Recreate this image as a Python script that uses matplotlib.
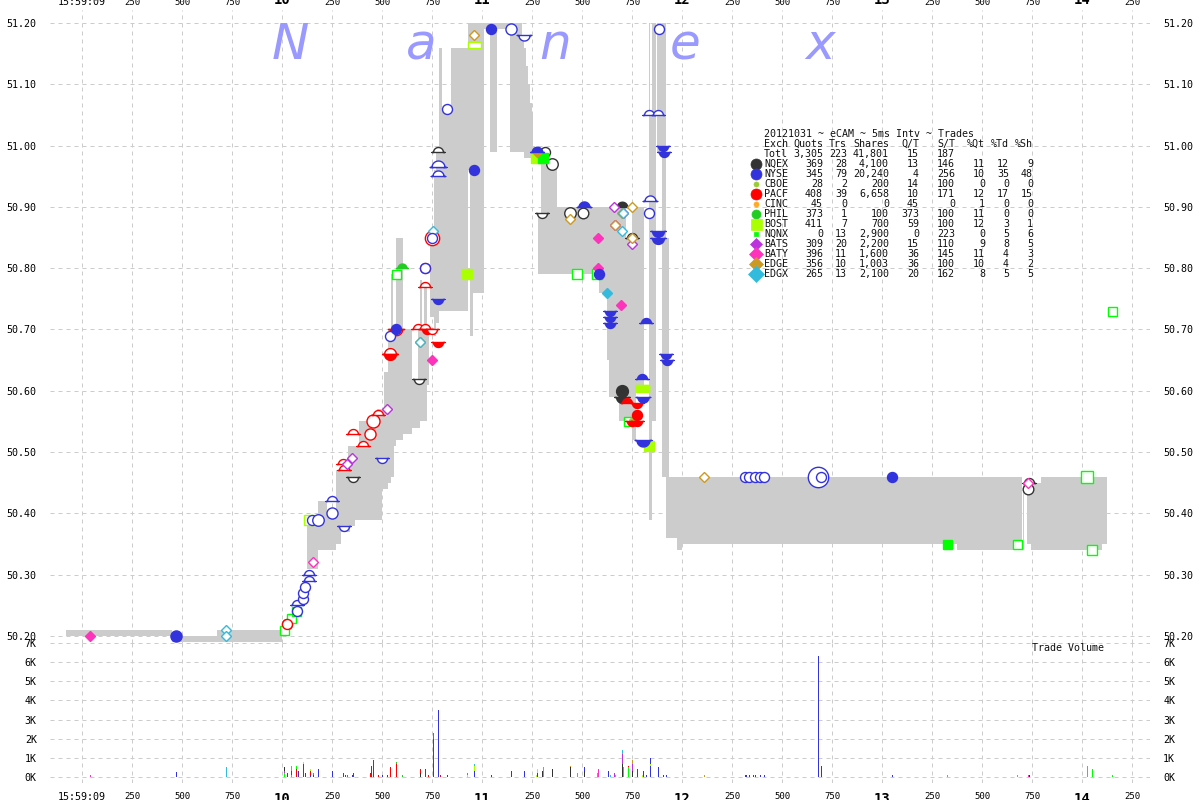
import numpy as np
import matplotlib
matplotlib.use('Agg')
import matplotlib.pyplot as plt
from matplotlib.path import Path

plt.rcParams['font.family'] = ['DejaVu Sans Mono']

# exchange summary table
exch = ['NQEX', 'NYSE', 'CBOE', 'PACF', 'CINC', 'PHIL', 'BOST', 'NQNX', 'BATS', 'BATY', 'EDGE', 'EDGX']
quots = ['369', '345', '28', '408', '45', '373', '411', '0', '309', '396', '356', '265']
trs = ['28', '79', '2', '39', '0', '1', '7', '13', '20', '11', '10', '13']
shares = ['4,100', '20,240', '200', '6,658', '0', '100', '700', '2,900', '2,200', '1,600', '1,003', '2,100']
q_t = ['13', '4', '14', '10', '45', '373', '59', '0', '15', '36', '36', '20']
s_t = ['146', '256', '100', '171', '0', '100', '100', '223', '110', '145', '100', '162']
pct_qt = ['11', '10', '0', '12', '1', '11', '12', '0', '9', '11', '10', '8']
pct_td = ['12', '35', '0', '17', '0', '0', '3', '5', '8', '4', '4', '5']
pct_sh = ['9', '48', '0', '15', '0', '0', '1', '6', '5', '3', '2', '5']
colors = {'NQEX': '#333333', 'NYSE': '#3333dd', 'CBOE': '#99cc33', 'PACF': '#ff0000', 'CINC': '#ffaa22',
          'PHIL': '#22cc22', 'BOST': '#aaff00', 'NQNX': '#00ff00', 'BATS': '#bb33dd', 'BATY': '#ff33bb',
          'EDGE': '#cc9922', 'EDGX': '#33bbdd'}

# grey quote range, ms after 15:59:09
band_start = [-80, 450, 675, 1125, 1180, 1225, 1270, 1295, 1330, 1340, 1365, 1385, 1475, 1500, 1510, 1530, 1545, 1555,
              1560, 1570, 1605, 1650, 1680, 1690, 1700, 1710, 1725, 1740, 1760, 1770, 1785, 1800, 1845, 1930, 1940,
              1955, 2010, 2040, 2075, 2140, 2200, 2210, 2220, 2230, 2240, 2250, 2255, 2280, 2295, 2375, 2585, 2625,
              2635, 2685, 2720, 2750, 2770, 2835, 2840, 2850, 2875, 2900, 2920, 2935, 2975, 3000, 4375, 4705, 4725,
              4745, 4795, 5100]
band_end = [450, 675, 1000, 1180, 1225, 1270, 1295, 1330, 1340, 1365, 1385, 1475, 1500, 1510, 1530, 1545, 1555, 1560,
            1570, 1605, 1650, 1680, 1690, 1700, 1710, 1725, 1735, 1760, 1770, 1785, 1800, 1845, 1930, 1940, 1955,
            2010, 2040, 2075, 2140, 2200, 2210, 2220, 2230, 2240, 2250, 2255, 2265, 2295, 2375, 2585, 2625, 2635,
            2685, 2720, 2750, 2770, 2810, 2840, 2850, 2870, 2900, 2920, 2935, 2975, 3000, 4375, 4700, 4710, 4745,
            4795, 5100, 5125]
band_hi = [50.21, 50.20, 50.21, 50.39, 50.42, 50.40, 50.47, 50.47, 50.51, 50.51, 50.51, 50.55, 50.57, 50.57, 50.63,
           50.70, 50.79, 50.70, 50.70, 50.85, 50.70, 50.62, 50.70, 50.78, 50.70, 50.77, 50.70, 50.86, 50.96, 51.00,
           51.16, 51.06, 51.16, 51.20, 51.20, 51.20, 51.20, 51.20, 51.20, 51.20, 51.18, 51.16, 51.13, 51.10, 51.07,
           51.05, 51.00, 50.89, 50.97, 50.90, 50.90, 50.90, 50.90, 50.90, 50.85, 50.90, 50.90, 51.20, 51.05, 51.20,
           51.20, 51.20, 50.85, 50.46, 50.46, 50.46, 50.46, 50.45, 50.45, 50.45, 50.46, 50.46]
band_lo = [50.20, 50.19, 50.19, 50.31, 50.34, 50.34, 50.35, 50.37, 50.37, 50.38, 50.39, 50.39, 50.39, 50.44, 50.44,
           50.45, 50.46, 50.46, 50.51, 50.52, 50.53, 50.54, 50.54, 50.55, 50.55, 50.55, 50.61, 50.72, 50.69, 50.71,
           50.73, 50.73, 50.73, 50.96, 50.69, 50.76, 51.19, 50.99, 51.19, 50.99, 50.99, 50.98, 50.98, 50.98, 50.98,
           50.98, 50.98, 50.79, 50.79, 50.79, 50.76, 50.65, 50.59, 50.55, 50.55, 50.52, 50.60, 50.39, 50.39, 50.55,
           50.99, 50.46, 50.36, 50.36, 50.34, 50.35, 50.34, 50.34, 50.35, 50.34, 50.34, 50.35]

# quote/trade marks per exchange: f filled, h hollow, u/U half up open/filled, d/D half down open/filled
nqex_ms = [1025, 1355, 1685, 1780, 2300, 2315, 2350, 2440, 2505, 2700, 2700, 2700, 2750, 4735, 4730]
nqex_px = [50.22, 50.46, 50.62, 50.99, 50.89, 50.99, 50.97, 50.89, 50.89, 50.90, 50.60, 50.59, 50.85, 50.45, 50.44]
nqex_kind = 'hdduddhhhhUfDuuh'[:1] + 'ddudhhhhUfDuuh'
nqex_sh = [100, 100, 100, 100, 100, 100, 400, 400, 200, 200, 500, 500, 100, 100, 200]

nyse_ms = [470, 1075, 1075, 1105, 1105, 1115, 1135, 1135, 1150, 1180, 1250, 1250, 1310, 1500, 1540, 1570, 1715, 1750,
           1780, 1780, 1780, 1780, 1825, 1960, 2045, 2145, 2210, 2275, 2510, 2585, 2640, 2640, 2640, 2820, 2800, 2805,
           2805, 2835, 2840, 2835, 2880, 2880, 2880, 2885, 2905, 2910, 2920, 2925, 3315, 3335, 3365, 3390, 3410, 3680,
           3695, 4050]
nyse_px = [50.20, 50.25, 50.24, 50.26, 50.27, 50.28, 50.29, 50.30, 50.39, 50.39, 50.40, 50.42, 50.38, 50.49, 50.69,
           50.70, 50.80, 50.85, 50.965, 50.965, 50.95, 50.75, 51.06, 50.96, 51.19, 51.19, 51.18, 50.99, 50.90, 50.79,
           50.73, 50.72, 50.71, 50.71, 50.62, 50.59, 50.52, 50.89, 50.91, 51.05, 51.05, 50.86, 50.85, 51.19, 51.00,
           50.99, 50.66, 50.65, 50.46, 50.46, 50.46, 50.46, 50.46, 50.46, 50.46, 50.46]
nyse_kind = 'fuhhhhuuhhhuddhfhhUuuDhffhdUUfDDDUUDDhuuuDDhDDDDhhhhhhhf'
nyse_sh = [300, 100, 100, 100, 100, 100, 100, 100, 100, 400, 300, 100, 100, 100, 100, 100, 100, 100,
           100, 900, 300, 100, 100, 100, 100, 300, 300, 200, 300, 100, 100, 100, 100, 100, 100, 300,
           900, 100, 300, 100, 100, 500, 500, 100, 100, 100, 100, 100, 100, 100, 100, 100, 100, 6300,
           100, 100]

pacf_ms = [1025, 1305, 1310, 1405, 1355, 1440, 1455, 1480, 1540, 1540, 1570, 1680, 1715, 1725, 1750, 1780, 1715, 1715,
           1750, 2725, 2775, 2775, 2775, 2750]
pacf_px = [50.22, 50.48, 50.47, 50.51, 50.53, 50.53, 50.55, 50.56, 50.66, 50.66, 50.70, 50.70, 50.70, 50.70, 50.70,
           50.68, 50.77, 50.80, 50.85, 50.58, 50.58, 50.56, 50.55, 50.55]
pacf_kind = 'huuuuhhuuDduuDdDuhhUDfDD'
pacf_sh = [100, 100, 100, 100, 100, 300, 900, 100, 500, 500, 700, 100, 100, 100, 100, 100, 100, 100,
           1500, 100, 100, 100, 100, 100]

phil_ms = [1600]
phil_px = [50.80]
phil_kind = 'U'
phil_sh = [100]

cboe_ms = [2750]
cboe_px = [50.55]
cboe_kind = 'f'
cboe_sh = [100]

bost_ms = [1135, 1925, 1960, 2270, 2800, 2800, 2835]
bost_px = [50.39, 50.79, 51.16, 50.98, 50.61, 50.60, 50.51]
bost_kind = 'hfufDUf'
bost_sh = [100, 100, 100, 100, 100, 100, 100]

nqnx_ms = [1010, 1045, 1070, 1570, 2305, 2475, 2575, 2730, 4325, 4675, 5025, 5050, 5150]
nqnx_px = [50.21, 50.23, 50.24, 50.79, 50.98, 50.79, 50.79, 50.55, 50.35, 50.35, 50.46, 50.34, 50.73]
nqnx_kind = 'hhhhfhhhfhhhh'
nqnx_sh = [100, 100, 100, 100, 400, 200, 200, 100, 100, 100, 600, 400, 100]

bats_ms = [1325, 1350, 1525, 2660, 2665, 2705, 2750]
bats_px = [50.48, 50.49, 50.57, 50.90, 50.87, 50.89, 50.84]
bats_kind = 'hhhhhhh'
bats_sh = [100, 100, 100, 100, 100, 100, 100]

baty_ms = [40, 1155, 1750, 2580, 2580, 2695, 4730]
baty_px = [50.20, 50.32, 50.65, 50.85, 50.80, 50.74, 50.45]
baty_kind = 'fhfffhh'[:5] + 'fh'
baty_sh = [100, 100, 100, 100, 100, 100, 100]

edge_ms = [1690, 1960, 2275, 2440, 2665, 2700, 2750, 2750, 3110]
edge_px = [50.68, 51.18, 50.99, 50.88, 50.87, 50.89, 50.90, 50.85, 50.46]
edge_kind = 'hhfhhhhhh'
edge_sh = [100, 100, 100, 100, 100, 100, 100, 100, 100]

edgx_ms = [720, 720, 1690, 1755, 2625, 2705, 2700]
edgx_px = [50.21, 50.20, 50.68, 50.86, 50.76, 50.89, 50.86]
edgx_kind = 'hhhhfhh'
edgx_sh = [100, 100, 100, 100, 100, 300, 100]

# traded volume, stacked where the ms repeats
vol_ms = [40, 470, 720, 1010, 1010, 1010, 1025, 1045, 1045, 1045, 1070, 1070, 1080, 1105, 1105, 1115, 1140, 1140, 1140,
          1155, 1155, 1180, 1250, 1305, 1315, 1325, 1350, 1355, 1440, 1445, 1455, 1480, 1500, 1525, 1540, 1570, 1570,
          1600, 1690, 1690, 1715, 1730, 1755, 1755, 1755, 1780, 1790, 1825, 1925, 1925, 1960, 1960, 1960, 2045, 2145,
          2210, 2270, 2275, 2275, 2305, 2305, 2300, 2350, 2440, 2440, 2475, 2510, 2510, 2575, 2580,
          2630, 2640, 2660, 2665, 2700, 2700, 2700, 2705, 2730, 2730, 2750, 2750, 2750, 2775, 2800, 2805, 2820, 2840,
          2840, 2840, 2880, 2905, 2920, 3110, 3315, 3320, 3335, 3355, 3365, 3390, 3410, 3680, 3695, 4050, 4325, 4675,
          4730, 4735, 5025, 5050, 5150]
vol_sh = [100, 280, 500, 200, 100, 200, 200, 100, 200, 300, 400, 200, 300, 700, 100, 200, 100, 200, 100,
          100, 100, 400, 300, 200, 100, 100, 100, 200, 200, 600, 900, 100, 100, 100, 500, 700, 100,
          100, 200, 200, 400, 100, 700, 1300, 300, 3500, 100, 100, 100, 100, 300, 300, 100, 100, 300,
          300, 100, 200, 200, 100, 400, 300, 400, 500, 100, 200, 300, 200, 200, 400,
          300, 100, 200, 100, 700, 500, 200, 500, 500, 100, 300, 400, 200, 400, 100, 300, 100, 600,
          100, 300, 500, 100, 100, 100, 100, 100, 100, 100, 100, 100, 100, 6300, 600, 100, 100, 100,
          100, 100, 600, 400, 100]
vol_ex = ['BATY', 'NYSE', 'EDGX', 'NQNX', 'BATS', 'NQEX', 'PACF', 'NQNX', 'PACF', 'EDGX', 'PACF', 'NQNX', 'NYSE',
          'PACF', 'BOST', 'NYSE', 'NYSE', 'PACF', 'BOST', 'NYSE', 'BATY', 'NYSE', 'NYSE', 'PACF', 'PACF', 'BATS',
          'NYSE', 'PACF', 'PACF', 'PACF', 'PACF', 'PACF', 'NYSE', 'NYSE', 'PACF', 'PACF', 'PHIL', 'PHIL', 'NQEX',
          'PACF', 'PACF', 'PACF', 'NYSE', 'PACF', 'BATS', 'NYSE', 'PACF', 'NYSE', 'BOST', 'BATY', 'NYSE', 'BOST',
          'EDGX', 'NYSE', 'NYSE', 'NYSE', 'BOST', 'NYSE', 'BOST', 'NQNX', 'EDGX', 'NQEX', 'NQEX', 'NQEX', 'EDGE',
          'NQNX', 'NQEX', 'NYSE', 'NQNX', 'BATY', 'NYSE', 'EDGX', 'BATS', 'EDGE', 'NQEX', 'BATS', 'EDGX', 'EDGX',
          'NQNX', 'PACF', 'NQEX', 'BATS', 'EDGE', 'PACF', 'BOST', 'NYSE', 'NYSE', 'NYSE', 'BOST', 'NYSE', 'NYSE',
          'NYSE', 'NYSE', 'EDGE', 'NYSE', 'NYSE', 'NYSE', 'NYSE', 'NYSE', 'NYSE', 'NYSE', 'NYSE', 'NYSE', 'NYSE',
          'NQNX', 'NQNX', 'BATY', 'NQEX', 'NQNX', 'NQNX', 'NQNX']

W, H = 1200.0, 800.0
gray = '#cccccc'


def px_ax(x0, y0, x1, y1):
    return fig.add_axes([x0 / W, 1 - y1 / H, (x1 - x0) / W, (y1 - y0) / H])


def half(up, shape):
    if shape == 's':
        v = [(-1, 0), (-1, 1), (1, 1), (1, 0), (-1, 0)]
    else:
        th = np.linspace(np.pi, 0, 15)
        v = [(-1.3, 0)] + list(zip(np.cos(th), np.sin(th))) + [(1.3, 0), (-1.3, 0)]
    v = np.array(v, dtype=float)
    if not up:
        v[:, 1] *= -1
    return Path(v, closed=True)


shape_of = {'NQEX': 'o', 'NYSE': 'o', 'CBOE': 'o', 'PACF': 'o', 'CINC': 'o', 'PHIL': 'o', 'BOST': 's', 'NQNX': 's',
            'BATS': 'D', 'BATY': 'D', 'EDGE': 'D', 'EDGX': 'D'}
base_size = {'NQEX': 10, 'NYSE': 10, 'CBOE': 6, 'PACF': 10, 'CINC': 6, 'PHIL': 9, 'BOST': 10, 'NQNX': 9,
             'BATS': 9, 'BATY': 10, 'EDGE': 9, 'EDGX': 9}


def draw_marks(ax, ex, ms, px, kind, sh):
    c = colors[ex]
    for m, p, k, s in zip(ms, px, kind, sh):
        d = base_size[ex] + (np.sqrt(s / 100.0) - 1) * 1.5
        shp = shape_of[ex]
        marker = shp
        if k in 'uU':
            marker = half(True, shp)
            d *= 1.3
        elif k in 'dD':
            marker = half(False, shp)
            d *= 1.3
        elif shp == 'D':
            d *= 0.72
        if k in 'fUD':
            face = c
        else:
            face = 'white'
        ax.plot([m], [p], marker=marker, ms=d * 0.72, mfc=face, mec=c, mew=1.0, ls='none', zorder=5,
                clip_on=False, antialiased=False)


fig = plt.figure(figsize=(12, 8), dpi=100, facecolor='white')
x0, x1 = 50, 1150
xlim = ((x0 - 82) * 5, (x1 - 82) * 5)
ticks = list(range(0, 5251, 250))
labels = []
for i, t in enumerate(ticks):
    if i == 0:
        labels.append('15:59:09')
    elif i % 4 == 0:
        labels.append(str(9 + i // 4))
    else:
        labels.append(str(t % 1000))

# price panel, 613 px per dollar, 50.20 at y=636
ax = px_ax(x0, 10, x1, 643)
ax.set_xlim(xlim)
ax.set_ylim(50.20 - 7 / 613.0, 51.20 + 13 / 613.0)
ax.bar(band_start, np.array(band_hi) - np.array(band_lo), width=np.array(band_end) - np.array(band_start),
       bottom=band_lo, align='edge', color=gray, linewidth=0, antialiased=False, zorder=2)
draw_marks(ax, 'NQEX', nqex_ms, nqex_px, nqex_kind, nqex_sh)
draw_marks(ax, 'BOST', bost_ms, bost_px, bost_kind, bost_sh)
draw_marks(ax, 'NQNX', nqnx_ms, nqnx_px, nqnx_kind, nqnx_sh)
draw_marks(ax, 'CBOE', cboe_ms, cboe_px, cboe_kind, cboe_sh)
draw_marks(ax, 'PACF', pacf_ms, pacf_px, pacf_kind, pacf_sh)
draw_marks(ax, 'PHIL', phil_ms, phil_px, phil_kind, phil_sh)
draw_marks(ax, 'BATS', bats_ms, bats_px, bats_kind, bats_sh)
draw_marks(ax, 'EDGE', edge_ms, edge_px, edge_kind, edge_sh)
draw_marks(ax, 'BATY', baty_ms, baty_px, baty_kind, baty_sh)
draw_marks(ax, 'EDGX', edgx_ms, edgx_px, edgx_kind, edgx_sh)
draw_marks(ax, 'NYSE', nyse_ms, nyse_px, nyse_kind, nyse_sh)
price_ticks = [50.2 + 0.1 * i for i in range(11)]
ax.set_yticks(price_ticks)
ax.set_yticklabels(['%.2f' % p for p in price_ticks])
ax.set_xticks(ticks)
ax.set_xticklabels(labels)
ax.tick_params(axis='y', left=False, right=False, labelleft=True, labelright=True, labelsize=7.2, pad=6)
ax.tick_params(axis='x', top=False, bottom=False, labeltop=True, labelbottom=False, labelsize=6.5, pad=-1)

# volume panel, 0K at y=777, 7K at y=643
vx = px_ax(x0, 643, x1, 783)
vx.set_xlim(xlim)
vx.set_ylim(-6 / 134.0 * 7000, 7000)
tops = {}
for m, s, e in zip(vol_ms, vol_sh, vol_ex):
    b = tops.get(m, 0)
    vx.bar(m, s, width=5, bottom=b, align='edge', color=colors[e], linewidth=0, antialiased=False, zorder=3)
    tops[m] = b + s
vx.set_yticks(range(0, 7001, 1000))
vx.set_yticklabels(['%dK' % k for k in range(8)])
vx.set_xticks(ticks)
vx.set_xticklabels(labels)
vx.tick_params(axis='y', left=False, right=False, labelleft=True, labelright=True, labelsize=7.2, pad=6)
vx.tick_params(axis='x', top=False, bottom=False, labelsize=6.5, pad=3)

for a in (ax, vx):
    a.grid(True, color=gray, linewidth=0.72, linestyle=(0, (4, 4)))
    a.set_axisbelow(True)
    a.patch.set_visible(False)
    for s in a.spines.values():
        s.set_visible(False)
    for lab, t in zip(a.get_xticklabels(), ticks):
        if t % 1000 == 0 and t > 0:
            lab.set_fontsize(10)
            lab.set_fontweight('bold')
    for lab, t in zip(a.get_xticklabels(), ticks):
        if t == 0:
            lab.set_fontsize(7.2)


def txt(x, y, s, **kw):
    fig.text(x / W, 1 - y / H, s, va='center', fontsize=7.2, color='#111111', **kw)


# big faint logo
for x, s in zip([290, 421, 555, 685, 820], 'Nanex'):
    fig.text(x / W, 1 - 59 / H, s, color='#9999ff', fontsize=36, style='italic', family='DejaVu Sans',
             ha='center', va='baseline')

txt(764, 134, '20121031 ~ eCAM ~ 5ms Intv ~ Trades')
col_right = [823, 847, 889, 919, 955, 985, 1009, 1033]
head = ['Quots', 'Trs', 'Shares', 'Q/T', 'S/T', '%Qt', '%Td', '%Sh']
totl = ['3,305', '223', '41,801', '15', '187', '', '', '']
txt(764, 144, 'Exch')
txt(764, 154, 'Totl')
for x, h, v in zip(col_right, head, totl):
    txt(x, 144, h, ha='right')
    txt(x, 154, v, ha='right')
cols = [quots, trs, shares, q_t, s_t, pct_qt, pct_td, pct_sh]
for i, e in enumerate(exch):
    y = 164 + i * 10
    txt(764, y, e)
    for x, col in zip(col_right, cols):
        txt(x, y, col[i], ha='right')
    d = {'NQEX': 11, 'NYSE': 11, 'CBOE': 5, 'PACF': 11, 'CINC': 5, 'PHIL': 9, 'BOST': 11, 'NQNX': 5,
         'BATS': 9, 'BATY': 10, 'EDGE': 10, 'EDGX': 11}[e]
    ax.plot([756 / W], [1 - y / H], marker=shape_of[e], ms=d * 0.72, mfc=colors[e], mec=colors[e], mew=0.5,
            transform=fig.transFigure, clip_on=False, zorder=6)

txt(1032, 648, 'Trade Volume')

fig.savefig('out.png', dpi=100)
